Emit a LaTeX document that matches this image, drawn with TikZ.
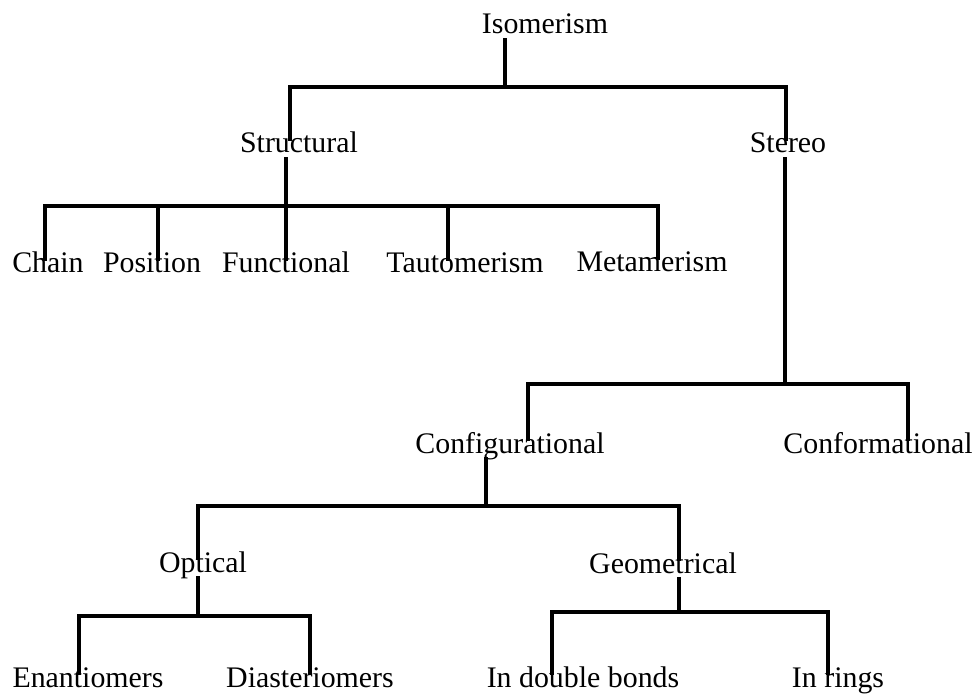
\documentclass[tikz,border=0pt]{standalone}
\usepackage{fontspec}
\setmainfont{Liberation Serif}
\usetikzlibrary{positioning}

\begin{document}
\begin{tikzpicture}[x=0.02cm,y=-0.02cm]
\tikzset{lbl/.style={anchor=base,inner sep=0pt,text height=0.68em,text depth=0.22em,font=\fontsize{17}{20}\selectfont},
  tree/.style={line width=2pt,line join=miter}}
\useasboundingbox (0,0) rectangle (976,695);
% labels
\node[lbl] (iso) at (545,34) {Isomerism};
\node[lbl] (struct) at (299,153) {Structural};
\node[lbl] (stereo) at (788,153) {Stereo};
\node[lbl] (chain) at (48,273) {Chain};
\node[lbl] (position) at (152,273) {Position};
\node[lbl] (functional) at (286,273) {Functional};
\node[lbl] (tauto) at (465,273) {Tautomerism};
\node[lbl] (meta) at (652,272) {Metamerism};
\node[lbl] (config) at (510,453) {Configurational};
\node[lbl] (conform) at (878,453) {Conformational};
\node[lbl] (optical) at (203,572) {Optical};
\node[lbl] (geom) at (663,573) {Geometrical};
\node[lbl] (enan) at (88,687) {Enantiomers};
\node[lbl] (diast) at (310,687) {Diasteriomers};
\node[lbl] (dbl) at (583,687) {In double bonds};
\node[lbl] (rings) at (838,687) {In rings};
% joints
\coordinate (j1) at (505,87); \coordinate (j1a) at (290,87); \coordinate (j1b) at (786,87);
\coordinate (j2) at (286,206); \coordinate (j2a) at (45,206); \coordinate (j2b) at (658,206);
\coordinate (j2p) at (158,206); \coordinate (j2t) at (448,206);
\coordinate (j3) at (785,384); \coordinate (j3a) at (528,384); \coordinate (j3b) at (908,384);
\coordinate (j4) at (486,506); \coordinate (j4a) at (198,506); \coordinate (j4b) at (679,506);
\coordinate (j5) at (198,616); \coordinate (j5a) at (79,616); \coordinate (j5b) at (310,616);
\coordinate (j6) at (679,612); \coordinate (j6a) at (552,612); \coordinate (j6b) at (828,612);
% branches
\draw[tree] (iso.south -| j1)--(j1);
\draw[tree] (struct.north -| j1a) |- (j1b)--(stereo.north -| j1b);
\draw[tree] (struct.south -| j2)--(functional.north -| j2);
\draw[tree] (chain.north -| j2a) |- (j2b)--(meta.north -| j2b);
\draw[tree] (j2p)--(position.north -| j2p);
\draw[tree] (j2t)--(tauto.north -| j2t);
\draw[tree] (stereo.south -| j3)--(j3);
\draw[tree] (config.north -| j3a) |- (j3b)--(conform.north -| j3b);
\draw[tree] (config.south -| j4)--(j4);
\draw[tree] (optical.north -| j4a) |- (j4b)--(geom.north -| j4b);
\draw[tree] (optical.south -| j5)--(j5);
\draw[tree] (enan.north -| j5a) |- (j5b)--(diast.north -| j5b);
\draw[tree] (geom.south -| j6)--(j6);
\draw[tree] (dbl.north -| j6a) |- (j6b)--(rings.north -| j6b);
\end{tikzpicture}
\end{document}
